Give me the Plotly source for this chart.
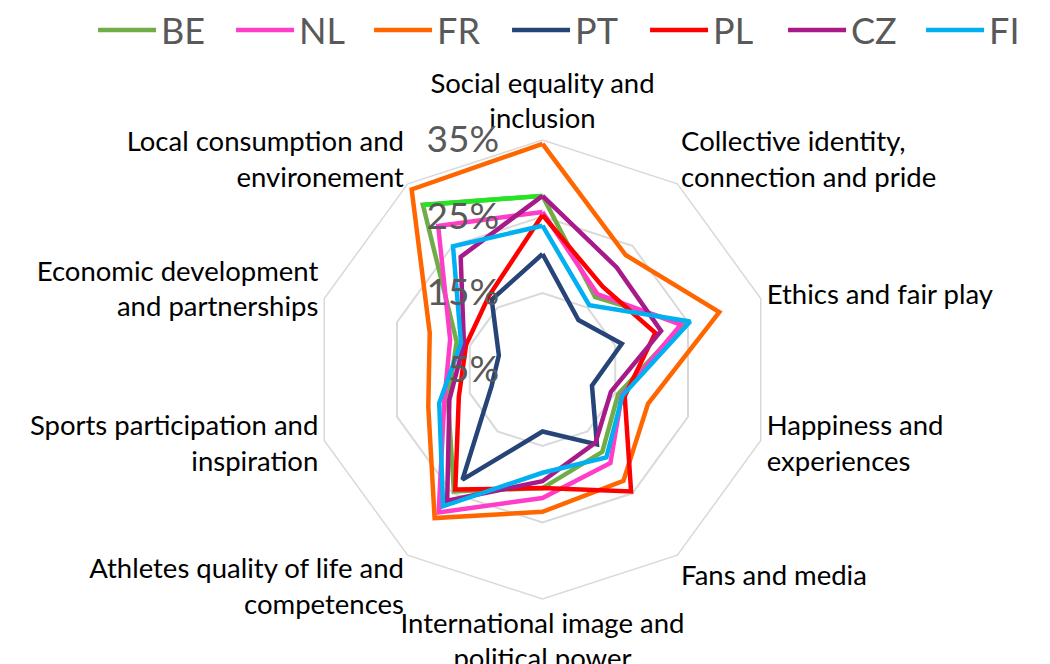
import plotly.graph_objects as go

# categorias del radar (sentido horario desde arriba)
# (los <br> extra al principio/final solo corren la etiqueta como en Excel)
categorias = ["Social equality and<br>inclusion",
              "<br>Collective identity,<br>connection and pride",
              "Ethics and fair play",
              "Happiness and<br>experiences<br>",
              "Fans and media<br>",
              "International image and<br>political power",
              "Athletes quality of life and<br>competences<br><br>",
              "Sports participation and<br>inspiration<br>",
              "Economic development<br>and partnerships",
              "<br>Local consumption and<br>environement"]

# valores
BE = [0.277, 0.167, 0.244, 0.154, 0.183, 0.205, 0.247, 0.180, 0.168, 0.316]
NL = [0.256, 0.172, 0.240, 0.159, 0.201, 0.218, 0.281, 0.185, 0.177, 0.282]
FR = [0.345, 0.235, 0.293, 0.195, 0.230, 0.236, 0.290, 0.207, 0.205, 0.341]
PT = [0.201, 0.130, 0.159, 0.118, 0.171, 0.131, 0.228, 0.120, 0.110, 0.163]
PL = [0.252, 0.184, 0.205, 0.163, 0.247, 0.205, 0.244, 0.165, 0.155, 0.169]
CZ = [0.277, 0.215, 0.213, 0.144, 0.168, 0.196, 0.262, 0.178, 0.158, 0.232]
FI = [0.238, 0.154, 0.253, 0.160, 0.192, 0.185, 0.271, 0.192, 0.162, 0.249]

paises = ["BE", "NL", "FR", "PT", "PL", "CZ", "FI"]
series = [BE, NL, FR, PT, PL, CZ, FI]
colores = ["#70AD47", "#FF3DC8", "#FF6600", "#264478", "#FF0000", "#A8198A", "#00B0F0"]

ticks_r = [0.05, 0.15, 0.25, 0.35]

fig = go.Figure()

for nombre, vals, col in zip(paises, series, colores):
    fig.add_trace(go.Scatterpolar(
        r=vals + [vals[0]],
        theta=categorias + [categorias[0]],
        mode="lines",
        name=nombre,
        line=dict(color=col, width=4.5),
    ))
    if nombre == "BE":
        # el tramo de cierre de BE sale en verde claro en el original
        fig.add_trace(go.Scatterpolar(
            r=[vals[-1], vals[0]],
            theta=[categorias[-1], categorias[0]],
            mode="lines",
            showlegend=False,
            hoverinfo="skip",
            line=dict(color="#22E622", width=4.5),
        ))

fig.update_layout(
    width=1050, height=664,
    margin=dict(l=0, r=0, t=0, b=0, autoexpand=False),
    paper_bgcolor="white",
    font=dict(family="Lato", color="black"),
    showlegend=True,
    legend=dict(orientation="h", x=0.541, xanchor="center", y=1.012, yanchor="top",
                font=dict(size=36, color="#595959"),
                itemwidth=58,
                entrywidth=65, entrywidthmode="pixels",
                bgcolor="rgba(0,0,0,0)"),
    polar=dict(
        domain=dict(x=[0.2905, 0.7276], y=[0.1099, 0.8012]),
        bgcolor="white",
        gridshape="linear",
        angularaxis=dict(direction="clockwise", rotation=90,
                         showgrid=False, showline=True,
                         linecolor="#D9D9D9", linewidth=1.5,
                         ticks="", tickfont=dict(size=27.5, color="black")),
        radialaxis=dict(range=[0.05, 0.35], tickvals=ticks_r, tickformat=".0%",
                        angle=90, tickangle=90, side="counterclockwise",
                        showline=False, gridcolor="#D9D9D9", gridwidth=1.5,
                        ticks="outside", ticklen=30, tickcolor="rgba(0,0,0,0)",
                        tickfont=dict(size=37, color="#595959")),
    ),
)

fig.write_html("out.html")
